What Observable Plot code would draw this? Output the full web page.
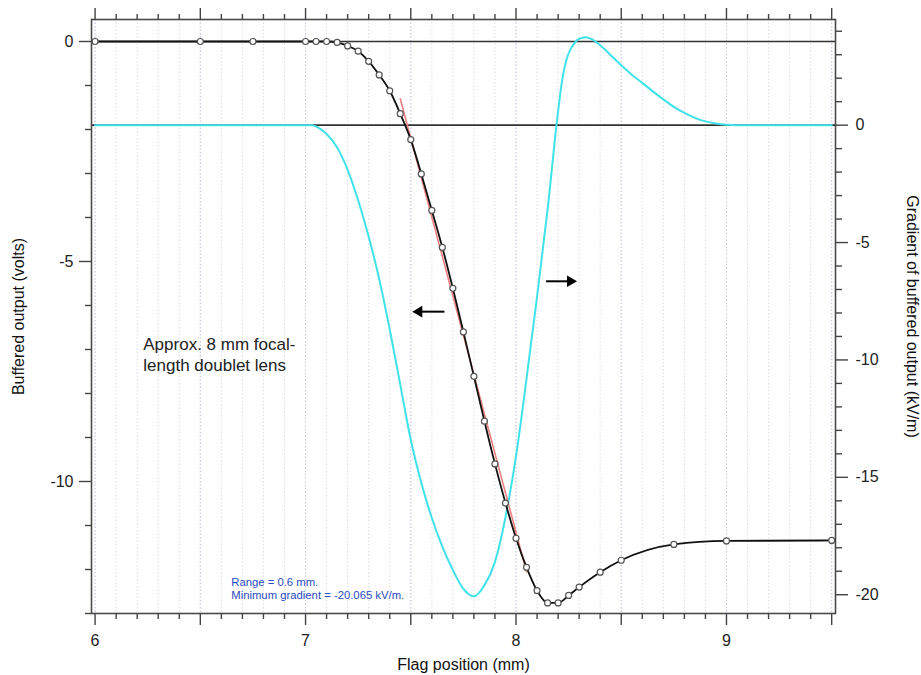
<!DOCTYPE html>
<html><head><meta charset="utf-8">
<script src="https://cdn.jsdelivr.net/npm/d3@7"></script>
<script src="https://cdn.jsdelivr.net/npm/@observablehq/plot@0.6"></script>
<style>body{margin:0;background:#fff;} #chart svg{display:block}</style>
</head><body><div id="chart"></div>
<script>
// Measured buffered output (volts) vs flag position (mm)
const pointX = [6.0,6.5,6.75,7.0,7.05,7.1,7.15,7.2,7.25,7.3,7.35,7.4,7.45,7.5,7.55,7.6,7.65,7.7,7.75,7.8,7.85,7.9,7.95,8.0,8.05,8.1,8.15,8.2,8.25,8.3,8.4,8.5,8.75,9.0,9.5];
const pointV = [0,0,0,0,0,0,-0.02,-0.1,-0.22,-0.45,-0.76,-1.12,-1.64,-2.23,-3.01,-3.84,-4.68,-5.61,-6.60,-7.61,-8.63,-9.60,-10.49,-11.29,-11.95,-12.48,-12.76,-12.76,-12.59,-12.40,-12.06,-11.79,-11.43,-11.35,-11.34];

// Gradient of buffered output (kV/m), right axis
const gradX = [6.0,6.5,7.0,7.03,7.07,7.10,7.15,7.20,7.25,7.30,7.35,7.40,7.45,7.50,7.55,7.60,7.65,7.70,7.75,7.80,7.85,7.90,7.95,8.00,8.05,8.10,8.15,8.20,8.22,8.24,8.26,8.28,8.30,8.33,8.36,8.39,8.42,8.45,8.50,8.55,8.60,8.65,8.70,8.75,8.80,8.85,8.90,8.95,9.0,9.05,9.5];
const gradV = [0,0,0,0,-0.16,-0.38,-0.95,-1.9,-3.2,-4.75,-6.55,-8.7,-11.05,-13.4,-15.23,-16.73,-17.95,-18.95,-19.75,-20.07,-19.6,-18.6,-16.7,-14.1,-10.8,-7.3,-3.6,0.6,1.95,2.8,3.25,3.52,3.67,3.74,3.66,3.48,3.24,2.98,2.55,2.15,1.80,1.44,1.10,0.78,0.52,0.31,0.16,0.07,0.02,0,0];

// Linear fit (red) over 0.6 mm range
const fitX = [7.45, 8.05];
const fitV = [-1.30, -12.05];

// Axis ticks
const xMajor = [6,7,8,9];
const xHalf = [6.5,7.5,8.5,9.5];
const xMinor = d3.range(60, 96).map(d => d / 10).filter(d => Math.abs(d * 2 - Math.round(d * 2)) > 1e-9);
const gridLines = d3.range(60, 96).map(d => d / 10);
const gridHalf = [6,6.5,7,7.5,8,8.5,9,9.5];
const yMajor = [0,-5,-10];
const yMinor = [-1,-2,-3,-4,-6,-7,-8,-9,-11,-12,-13];
const rMajor = [0,-5,-10,-15,-20];
const rMinor = [4,3,2,1,-1,-2,-3,-4,-6,-7,-8,-9,-11,-12,-13,-14,-16,-17,-18,-19];

// Annotations
const noteLines = ["Approx. 8 mm focal-", "length doublet lens"];
const statLines = ["Range = 0.6 mm.", "Minimum gradient = -20.065 kV/m."];
const arrowsLeft = [{x1: 7.66, x2: 7.507, y: -6.14}];
const arrowsRight = [{x1: 8.143, x2: 8.29, y: -5.45}];

// Scale domains (left axis volts, right axis kV/m)
const L0 = -13, L1 = 0.5, R0 = -20.8, R1 = 4.5;
const toLeft = r => L0 + (r - R0) * (L1 - L0) / (R1 - R0);
const fromLeft = l => R0 + (l - L0) * (R1 - R0) / (L1 - L0);

const blackPts = pointX.map((x, i) => ({x, y: pointV[i]}));
const cyanPts = gradX.map((x, i) => ({x, y: toLeft(gradV[i])}));
const fitPts = fitX.map((x, i) => ({x, y: fitV[i]}));

const axisCommon = {label: null, stroke: "#444", strokeWidth: 1.4, fill: "#222"};
const blank = () => "";

const plot = Plot.plot({
  width: 921, height: 675,
  marginLeft: 91, marginRight: 86, marginTop: 19, marginBottom: 62,
  x: {domain: [5.983, 9.518]},
  y: {domain: [L0, L1]},
  style: {fontFamily: "'Liberation Sans', Arial, Helvetica, sans-serif", fontSize: "16px", color: "#222", background: "#fff"},
  marks: [
    Plot.ruleX(gridLines, {stroke: "#dcdee9", strokeWidth: 1, strokeDasharray: "1.5,2"}),
    Plot.ruleX(gridHalf, {stroke: "#c8cce4", strokeWidth: 1, strokeDasharray: "1.5,2"}),
    Plot.ruleY([0], {stroke: "#333", strokeWidth: 1.6}),
    Plot.ruleY([toLeft(0)], {stroke: "#333", strokeWidth: 1.6}),
    Plot.line(cyanPts, {x: "x", y: "y", stroke: "#3fe2e8", strokeWidth: 2, curve: "monotone-x"}),
    Plot.line(fitPts, {x: "x", y: "y", stroke: "#ec7f7f", strokeWidth: 1.6}),
    Plot.line(blackPts, {x: "x", y: "y", stroke: "#111", strokeWidth: 1.8, curve: "monotone-x"}),
    Plot.dot(blackPts, {x: "x", y: "y", r: 3, fill: "#fff", stroke: "#555", strokeWidth: 1.2}),
    Plot.link(arrowsLeft, {x1: "x1", x2: d => d.x2 + 0.03, y1: "y", y2: "y", stroke: "#000", strokeWidth: 2}),
    Plot.dot(arrowsLeft, {x: "x2", y: "y", symbol: "triangle", r: 4.3, fill: "#000", stroke: "none", rotate: -90, dx: 6.7}),
    Plot.link(arrowsRight, {x1: "x1", x2: d => d.x2 - 0.03, y1: "y", y2: "y", stroke: "#000", strokeWidth: 2}),
    Plot.dot(arrowsRight, {x: "x2", y: "y", symbol: "triangle", r: 4.3, fill: "#000", stroke: "none", rotate: 90, dx: -6.7}),
    Plot.text([{x: 6.229, y: -7.10, t: noteLines.join("\n")}], {x: "x", y: "y", text: "t", textAnchor: "start", lineHeight: 1.24, fontSize: 17, fill: "#222"}),
    Plot.text([{x: 6.647, y: -12.43, t: statLines.join("\n")}], {x: "x", y: "y", text: "t", textAnchor: "start", lineHeight: 1.15, fontSize: 11.3, fill: "#2a4bc0"}),
    Plot.frame({stroke: "#4a4a4a", strokeWidth: 1.6}),
    Plot.axisX(xMajor, {...axisCommon, anchor: "bottom", tickSize: 12, tickPadding: 9, tickFormat: d => String(d)}),
    Plot.axisX(xHalf, {...axisCommon, anchor: "bottom", tickSize: 12, tickFormat: blank}),
    Plot.axisX(xMinor, {...axisCommon, anchor: "bottom", tickSize: 6, tickFormat: blank}),
    Plot.axisX(xMajor, {...axisCommon, anchor: "top", tickSize: 12, tickFormat: blank}),
    Plot.axisX(xHalf, {...axisCommon, anchor: "top", tickSize: 12, tickFormat: blank}),
    Plot.axisX(xMinor, {...axisCommon, anchor: "top", tickSize: 6, tickFormat: blank}),
    Plot.axisY(yMajor, {...axisCommon, anchor: "left", tickSize: 12, tickPadding: 6, tickFormat: d => String(d)}),
    Plot.axisY(yMinor, {...axisCommon, anchor: "left", tickSize: 6, tickFormat: blank}),
    Plot.axisY(rMajor.map(toLeft), {...axisCommon, anchor: "right", tickSize: 12, tickPadding: 8, tickFormat: d => String(Math.round(fromLeft(d)))}),
    Plot.axisY(rMinor.map(toLeft), {...axisCommon, anchor: "right", tickSize: 6, tickFormat: blank}),
    Plot.text(["Buffered output (volts)"], {text: d => d, frameAnchor: "left", textAnchor: "middle", lineAnchor: "middle", dx: -73, rotate: -90, fontSize: 16, fill: "#111"}),
    Plot.text(["Gradient of buffered output (kV/m)"], {text: d => d, frameAnchor: "right", textAnchor: "middle", lineAnchor: "middle", dx: 77, rotate: 90, fontSize: 16, fill: "#111"}),
    Plot.text(["Flag position (mm)"], {text: d => d, frameAnchor: "bottom", textAnchor: "middle", lineAnchor: "middle", dy: 51, fontSize: 16, fill: "#111"})
  ]
});
document.getElementById("chart").appendChild(plot);
</script>
</body></html>
